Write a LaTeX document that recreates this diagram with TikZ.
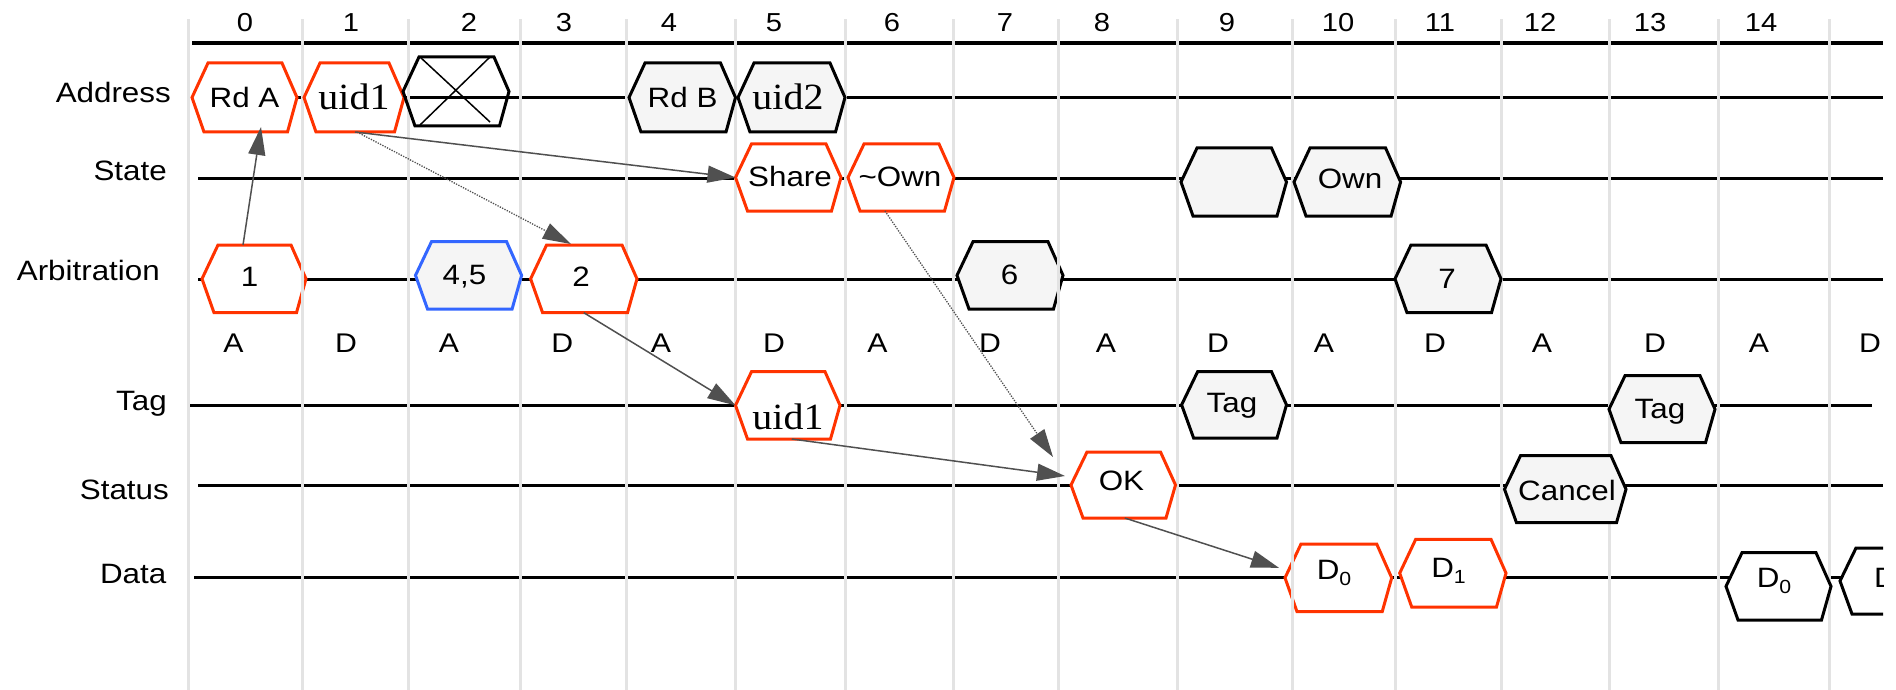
\documentclass[tikz,border=0pt]{standalone}
\usepackage{fontspec}
\setmainfont{Liberation Sans}[FakeStretch=1.12]
\newfontfamily\uidfont{Liberation Serif}[FakeStretch=1.08]
\usetikzlibrary{arrows.meta}

\definecolor{sigred}{HTML}{FF3300}
\definecolor{sigblue}{HTML}{3366FF}
\definecolor{sigfill}{HTML}{F5F5F5}
\definecolor{gridgray}{HTML}{E3E3E3}
\definecolor{linkgray}{HTML}{505050}

\tikzset{
  hexframe/.style={inner sep=0pt, outer sep=0pt},
  hexbase/.style={line width=3pt, line join=miter},
  redhex/.style={hexbase, draw=sigred, fill=white},
  bluehex/.style={hexbase, draw=sigblue, fill=sigfill},
  grayhex/.style={hexbase, draw=black, fill=sigfill},
  whitehex/.style={hexbase, draw=black, fill=white},
  openhex/.style={hexbase, draw=black},
  xline/.style={line width=1.5pt, black},
  sigline/.style={line width=3pt, black},
  axisline/.style={line width=3.5pt, black},
  gridline/.style={line width=3pt, gridgray},
  lbl/.style={inner sep=0pt, font=\fontsize{28}{30}\selectfont},
  num/.style={inner sep=0pt, anchor=base, font=\fontsize{26}{28}\selectfont},
  phase/.style={inner sep=0pt, anchor=base, font=\fontsize{27}{29}\selectfont},
  hextext/.style={inner sep=0pt, anchor=base, font=\fontsize{28}{30}\selectfont},
  uidtext/.style={inner sep=0pt, anchor=base, font=\uidfont\fontsize{37}{39}\selectfont},
  link/.style={line width=1.5pt, linkgray, -{Triangle[length=28pt, width=17pt]}},
  dotlink/.style={line width=1.3pt, linkgray, dash pattern=on 1.3pt off 1.3pt,
                  -{Triangle[length=28pt, width=17pt, sep=0pt]}},
}

% hexagonal bus value: style, name, left tip, right tip, top, bottom
\newcommand\hexsig[6]{%
  \pgfmathsetmacro\hexw{#4-#3}%
  \pgfmathsetmacro\hexh{#6-#5}%
  \node[hexframe, minimum width=\hexw pt, minimum height=\hexh pt] (#2)
        at ({(#3+#4)/2},{(#5+#6)/2}) {};
  \draw[#1] (#2.west) -- ([xshift=16pt]#2.north west)
        -- ([xshift=-15pt]#2.north east) -- (#2.east)
        -- ([xshift=-9.5pt]#2.south east) -- ([xshift=12pt]#2.south west) -- cycle;
}
\newcommand\subdigit[1]{\raisebox{-6pt}{\fontsize{19}{19}\selectfont #1}}

\begin{document}
\begin{tikzpicture}[x=1pt, y=-1pt]
\useasboundingbox (0,0) rectangle (1896,690);

% signal names
\node[lbl, anchor=base east] (lAddr)  at (171,103) {Address};
\node[lbl, anchor=base east] (lState) at (167,180) {State};
\node[lbl, anchor=base east] (lArb)   at (160,280) {Arbitration};
\node[lbl, anchor=base east] (lTag)   at (167,410) {Tag};
\node[lbl, anchor=base east] (lStat)  at (169,499) {Status};
\node[lbl, anchor=base east] (lData)  at (166.5,583) {Data};

\begin{scope}
\clip (0,0) rectangle (1883,690);

% cycle numbers
\foreach \n/\x in {0/245,1/351,2/469,3/564,4/669,5/774,6/892,7/1005,8/1102,
                   9/1227,10/1338,11/1440,12/1540,13/1650,14/1761}
  \node[num] (cyc\n) at (\x,32) {\n};

% address / data phases
\foreach \k/\l/\x in {0/A/233.5,1/D/346,2/A/449,3/D/562.4,4/A/661,5/D/774,
                      6/A/877.5,7/D/990,8/A/1106,9/D/1218,10/A/1324,11/D/1435,
                      12/A/1542,13/D/1655,14/A/1759,15/D/1870}
  \node[phase] (ph\k) at (\x,352) {\l};

% idle levels
\draw[axisline] (192,43) -- (1883,43);
\draw[sigline] (192,98) -- (1883,98);
\draw[sigline] (198,179) -- (1883,179);
\draw[sigline] (198,279) -- (1883,279);
\draw[sigline] (190,405) -- (1872,405);
\draw[sigline] (198,485) -- (1883,485);
\draw[sigline] (194,577) -- (1883,577);

% values partly covered by the cycle grid
\hexsig{redhex}{a1}{202}{306}{245}{312.7}
\hexsig{grayhex}{a6}{957}{1063}{241.7}{309}
\hexsig{redhex}{d0}{1285}{1391.7}{544}{611.7}

% cycle grid
\foreach \gx in {188,302,408,520,626,735,845,953,1058,1177,1292,1395,1501,1609,1718,1829}
  \draw[gridline] (\gx,19) -- (\gx,690);

% Address
\hexsig{redhex}{rdA}{192}{297}{63}{132}
\hexsig{redhex}{uidA}{304}{404}{63}{132}
\hexsig{openhex}{xhex}{403}{509}{57}{126}
\draw[xline] ([xshift=17pt]xhex.north west) -- ([xshift=-19pt,yshift=4pt]xhex.south east);
\draw[xline] ([xshift=-19pt]xhex.north east) -- ([xshift=17pt,yshift=1pt]xhex.south west);
\hexsig{grayhex}{rdB}{629}{735.5}{63}{132}
\hexsig{grayhex}{uidB}{738}{845}{63}{132}

% State
\hexsig{redhex}{share}{735.5}{841}{144}{211}
\hexsig{redhex}{nown}{848}{954}{144}{211}
\hexsig{grayhex}{st9}{1181}{1286.5}{148}{216}
\hexsig{grayhex}{own}{1294}{1400.6}{148}{216}

% Arbitration
\hexsig{bluehex}{a45}{415.5}{521.6}{241.7}{309}
\hexsig{redhex}{a2}{530.6}{637}{245}{312.7}
\hexsig{grayhex}{a7}{1395}{1501}{245}{312.7}

% Tag
\hexsig{redhex}{tuid}{735.5}{840}{371.7}{439}
\hexsig{grayhex}{tag9}{1181.6}{1286.5}{371.7}{438}
\hexsig{grayhex}{tag13}{1609}{1715}{375.7}{442.7}

% Status
\hexsig{redhex}{ok}{1071}{1175.5}{452}{518}
\hexsig{grayhex}{cancel}{1504.5}{1626}{455.7}{522.7}

% Data
\hexsig{redhex}{d1}{1399.7}{1506}{539.3}{607}
\hexsig{whitehex}{d0b}{1726}{1831}{552.7}{620}
\hexsig{whitehex}{dpart}{1840}{1946}{548}{614}

% values
\node[hextext] (rdA-t)   at (244.5,108) {Rd A};
\node[uidtext] (uidA-t)  at (354,110) {uid1};
\node[hextext] (rdB-t)   at (682.6,108) {Rd B};
\node[uidtext] (uidB-t)  at (788,110) {uid2};
\node[hextext] (share-t) at (790,186) {Share};
\node[hextext] (nown-t)  at (900,186) {\textasciitilde Own};
\node[hextext] (own-t)   at (1350,189) {Own};
\node[hextext] (a1-t)    at (249.5,286.7) {1};
\node[hextext] (a45-t)   at (464.5,284) {4,5};
\node[hextext] (a2-t)    at (581,286.7) {2};
\node[hextext] (a6-t)    at (1009.6,284) {6};
\node[hextext] (a7-t)    at (1447,288) {7};
\node[uidtext] (tuid-t)  at (788,429) {uid1};
\node[hextext] (tag9-t)  at (1232,412) {Tag};
\node[hextext] (tag13-t) at (1660,418) {Tag};
\node[hextext] (ok-t)    at (1121.4,490) {OK};
\node[hextext] (cancel-t) at (1567,500) {Cancel};
\node[hextext] (d0-t)    at (1334,579) {D\subdigit{0}};
\node[hextext] (d1-t)    at (1448.5,577) {D\subdigit{1}};
\node[hextext] (d0b-t)   at (1774,587) {D\subdigit{0}};
\node[hextext, anchor=base west] (dpart-t) at (1874,587) {D};

% causality
\coordinate (okin) at ([xshift=-18pt,yshift=-5pt]ok.north west);
\draw[link] ([xshift=-11pt]a1.north) -- ([xshift=16.5pt,yshift=5pt]rdA.south);
\draw[link] ([xshift=1pt]uidA.south) -- (share.west);
\draw[dotlink] ([xshift=3pt]uidA.south) -- ([xshift=-13pt,yshift=1pt]a2.north);
\draw[link] (a2.south) -- (tuid.west);
\draw[dotlink] ([xshift=-16pt]nown.south) -- (okin);
\draw[link] ([xshift=4pt]tuid.south) -- ([xshift=-6pt,yshift=9pt]ok.west);
\draw[link] ([xshift=1.5pt]ok.south) -- ([xshift=-6pt,yshift=10pt]d0.west);
\end{scope}
\end{tikzpicture}
\end{document}
